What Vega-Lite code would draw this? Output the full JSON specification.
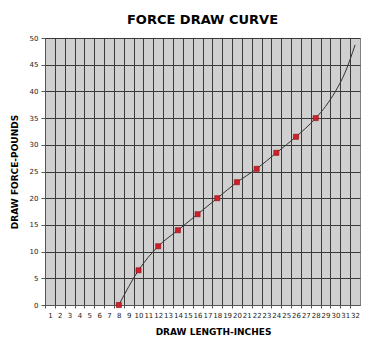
{
  "$schema": "https://vega.github.io/schema/vega-lite/v6.json",
  "autosize": {"type": "none"},
  "width": 315,
  "height": 267,
  "padding": {"left": 45, "top": 38, "right": 19, "bottom": 41},
  "background": "white",
  "title": {
    "text": "FORCE DRAW CURVE",
    "font": "DejaVu Sans",
    "fontSize": 13,
    "fontWeight": "bold",
    "color": "#000000",
    "anchor": "middle",
    "offset": 7
  },
  "config": {
    "view": {"fill": "#d0d0d0", "stroke": "#808080", "strokeWidth": 1},
    "axis": {
      "labelFont": "DejaVu Sans",
      "labelFontSize": 7,
      "labelColor": "#222222",
      "titleFont": "DejaVu Sans",
      "titleFontSize": 9,
      "titleFontWeight": "bold",
      "titleColor": "#000000",
      "gridColor": "#3a3a3a",
      "gridOpacity": 1,
      "gridWidth": 1,
      "domainColor": "#555555",
      "tickColor": "#555555"
    }
  },
  "datasets": {
    "curve": [
      {"len": 8, "force": 0},
      {"len": 10, "force": 6.5},
      {"len": 12, "force": 11},
      {"len": 14, "force": 14},
      {"len": 16, "force": 17},
      {"len": 18, "force": 20},
      {"len": 20, "force": 23},
      {"len": 22, "force": 25.5},
      {"len": 24, "force": 28.5},
      {"len": 26, "force": 31.5},
      {"len": 28, "force": 35},
      {"len": 29, "force": 37.2},
      {"len": 30, "force": 40},
      {"len": 31, "force": 43.6},
      {"len": 32, "force": 48.7}
    ],
    "points": [
      {"len": 8, "force": 0},
      {"len": 10, "force": 6.5},
      {"len": 12, "force": 11},
      {"len": 14, "force": 14},
      {"len": 16, "force": 17},
      {"len": 18, "force": 20},
      {"len": 20, "force": 23},
      {"len": 22, "force": 25.5},
      {"len": 24, "force": 28.5},
      {"len": 26, "force": 31.5},
      {"len": 28, "force": 35}
    ]
  },
  "encoding": {
    "x": {
      "field": "len",
      "type": "quantitative",
      "scale": {"domain": [0.5, 32.5], "nice": false, "zero": false},
      "axis": {
        "title": "DRAW LENGTH-INCHES",
        "values": [0.5,1.5,2.5,3.5,4.5,5.5,6.5,7.5,8.5,9.5,10.5,11.5,12.5,13.5,14.5,15.5,16.5,17.5,18.5,19.5,20.5,21.5,22.5,23.5,24.5,25.5,26.5,27.5,28.5,29.5,30.5,31.5],
        "labelExpr": "format(datum.value + 0.5, 'd')",
        "labelOffset": 4.92,
        "labelFlush": false,
        "labelOverlap": false,
        "labelPadding": 3,
        "tickSize": 3,
        "grid": true,
        "titlePadding": 9,
        "titleX": 168
      }
    },
    "y": {
      "field": "force",
      "type": "quantitative",
      "scale": {"domain": [0, 50], "nice": false},
      "axis": {
        "title": "DRAW FORCE-POUNDS",
        "values": [0,5,10,15,20,25,30,35,40,45,50],
        "tickSize": 4,
        "grid": true,
        "labelPadding": 3,
        "titlePadding": 10
      }
    }
  },
  "layer": [
    {
      "data": {"name": "curve"},
      "mark": {"type": "line", "interpolate": "monotone", "color": "#333333", "strokeWidth": 1}
    },
    {
      "data": {"name": "points"},
      "mark": {"type": "square", "size": 26, "filled": true, "color": "#d0202a", "stroke": "#8a1018", "strokeWidth": 0.6, "opacity": 1}
    }
  ]
}
